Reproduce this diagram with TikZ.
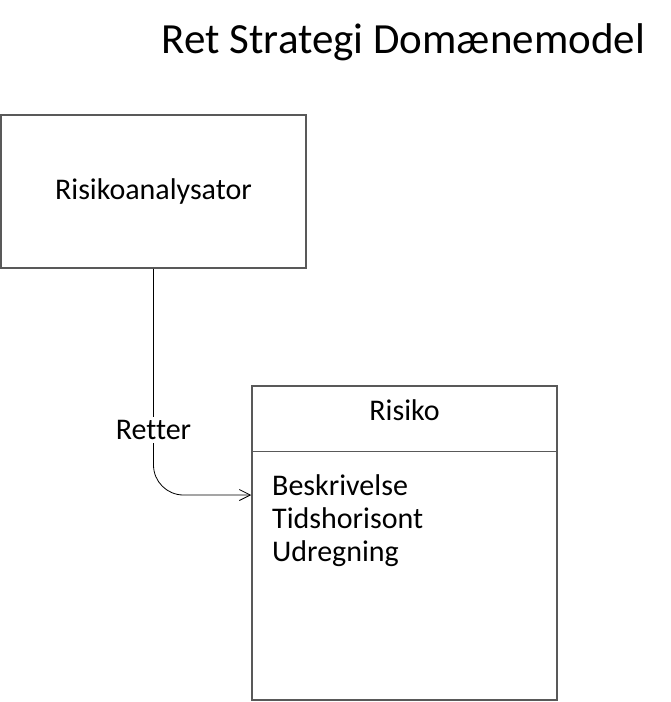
\documentclass[tikz,border=0pt]{standalone}
\usepackage{fontspec}
\setmainfont[Ligatures=CommonOff]{Carlito}
\usetikzlibrary{arrows.meta}

\tikzset{
  klasse/.style = {draw=black!65, line width=1.5pt, rectangle, inner sep=0pt},
  tekst/.style = {font=\fontsize{30}{33}\selectfont, inner sep=0pt},
  forbind/.style = {draw=black, line width=0.8pt, rounded corners=30pt, -{Straight Barb[length=11pt,width=11pt]}}
}

\begin{document}
\begin{tikzpicture}[x=1pt, y=-1pt]
\useasboundingbox (0,0) rectangle (671,702);
\node[font=\fontsize{43}{50}\selectfont, inner sep=0pt, anchor=base] (titel) at (403.5,53) {Ret Strategi Domænemodel};
\node[klasse, tekst, minimum width=305pt, minimum height=153pt] (analysator) at (153.5,191.5) {Risikoanalysator};
\node[klasse, minimum width=305pt, minimum height=314pt] (risiko) at (404.5,543) {};
\draw[draw=black!65, line width=1.5pt] ([yshift=-66pt]risiko.north west) -- ([yshift=-66pt]risiko.north east);
\node[tekst, anchor=base] (risikonavn) at (404.5,420) {Risiko};
% attributter
\foreach \attr [count=\i] in {Beskrivelse, Tidshorisont, Udregning}
  \node[tekst, anchor=base west] (attr\i) at (272, 462+33*\i) {\attr};
\draw[forbind] (analysator.south) |- (risiko.west |- attr1.base);
\node[tekst, fill=white, inner sep=3pt] (retter) at (153.5,430) {Retter};
\end{tikzpicture}
\end{document}
